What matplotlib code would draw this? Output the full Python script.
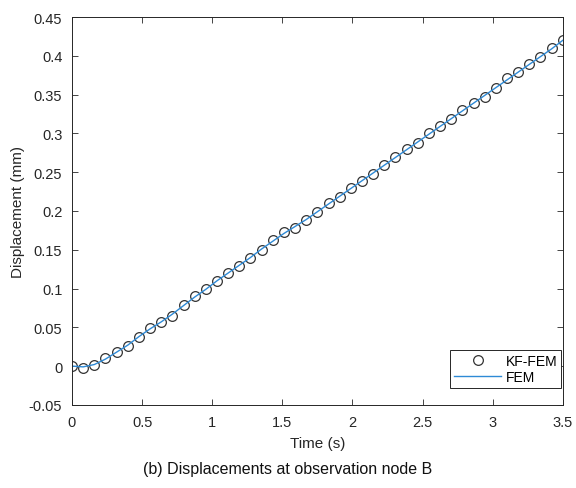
import matplotlib
matplotlib.use('Agg')
import matplotlib.pyplot as plt
import numpy as np

plt.rcParams.update({
    'font.family': ['Liberation Sans', 'DejaVu Sans'],
    'font.size': 10,
})

# observation times (45 samples from 0 to 3.5 s)
t = np.linspace(0, 3.5, 45)
# KF-FEM displacement (mm)
kf_fem = [0.000, -0.002, 0.001, 0.010, 0.018, 0.026, 0.038, 0.049, 0.057, 0.065,
          0.079, 0.090, 0.099, 0.110, 0.120, 0.129, 0.139, 0.150, 0.163, 0.173,
          0.178, 0.188, 0.199, 0.210, 0.218, 0.230, 0.239, 0.248, 0.259, 0.270,
          0.280, 0.288, 0.300, 0.310, 0.319, 0.330, 0.339, 0.347, 0.359, 0.371,
          0.379, 0.389, 0.398, 0.410, 0.421]
# FEM reference solution (mm)
fem = [0.000, -0.001, 0.002, 0.009, 0.018, 0.027, 0.038, 0.048, 0.057, 0.067,
       0.078, 0.089, 0.099, 0.110, 0.120, 0.130, 0.140, 0.151, 0.161, 0.171,
       0.180, 0.189, 0.199, 0.209, 0.219, 0.229, 0.239, 0.249, 0.259, 0.269,
       0.279, 0.289, 0.299, 0.309, 0.319, 0.329, 0.339, 0.349, 0.359, 0.369,
       0.379, 0.389, 0.399, 0.409, 0.420]

fig = plt.figure(figsize=(5.76, 4.89), dpi=100)
ax = fig.add_axes([0.125, 0.170, 0.852, 0.793])

ax.plot(t, kf_fem, 'o', ms=7, mfc='none', mec='#333333', mew=0.9, label='KF-FEM')
ax.plot(t, fem, color='#2e8ad6', lw=1.0, label='FEM')

ax.set_xlim(0, 3.5)
ax.set_ylim(-0.05, 0.45)
ax.set_xticks(np.arange(0, 3.51, 0.5))
ax.set_xticklabels(['0', '0.5', '1', '1.5', '2', '2.5', '3', '3.5'])
ax.set_yticks(np.arange(-0.05, 0.451, 0.05))
ax.set_yticklabels(['-0.05', '0', '0.05', '0.1', '0.15', '0.2', '0.25',
                    '0.3', '0.35', '0.4', '0.45'])
ax.tick_params(direction='in', top=True, right=True, length=4, width=0.6,
               colors='#262626', labelsize=10.5, pad=7)
for s in ax.spines.values():
    s.set_linewidth(0.7)
    s.set_color('#262626')

ax.set_xlabel('Time (s)', fontsize=11, color='#262626', labelpad=5)
ax.set_ylabel('Displacement (mm)', fontsize=11, color='#262626', labelpad=3)

leg = ax.legend(loc='lower right', bbox_to_anchor=(0.997, 0.043), borderaxespad=0,
                fontsize=10, fancybox=False, edgecolor='#262626', framealpha=1,
                handlelength=3.4, handletextpad=0.3, borderpad=0.3, labelspacing=0.15)
leg.get_frame().set_linewidth(0.7)

fig.text(0.5, 0.039, '(b) Displacements at observation node B', ha='center',
         va='center', fontsize=11.5, color='#111111')

fig.savefig('out.png', dpi=100)
